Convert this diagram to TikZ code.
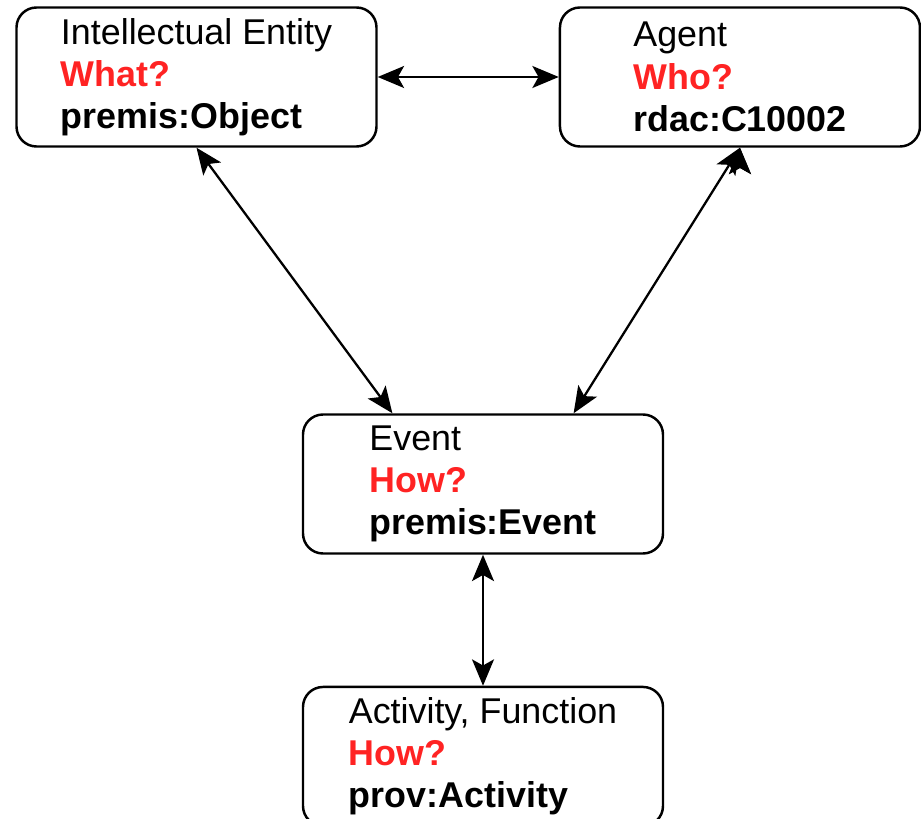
\documentclass[tikz,border=0pt]{standalone}
\usepackage{fontspec}
\setmainfont{Liberation Sans}
\usepackage{tikz}
\usetikzlibrary{arrows.meta,positioning,calc}
\definecolor{qred}{RGB}{255,35,35}
\newcommand*{\qs}[1]{\textcolor{qred}{\textbf{#1}}}

\begin{document}
\begin{tikzpicture}[
    box/.style={rectangle, draw=black, line width=1.4pt, rounded corners=0.4cm,
      minimum width=7.2cm, minimum height=2.78cm, align=left,
      font=\fontsize{20.4pt}{24pt}\selectfont},
    link/.style={<->, line width=1.3pt, >={Stealth[length=15pt,width=12.5pt,inset=3.5pt]}}
  ]
      \useasboundingbox (0,0) rectangle (18.42,-16.38);
      \node[box] (ie) at (3.93,-1.54) {Intellectual Entity\\ \qs{What?}\\ \textbf{premis:Object}};
      \node[box, right = 3.62cm of ie] (agent) {Agent\\ \qs{Who?}\\ \textbf{rdac:C10002}};
      \node[box] (ev) at (9.66,-9.68) {Event\\ \qs{How?}\\ \textbf{premis:Event}};
      \node[box, below = 2.62cm of ev] (act) {Activity, Function\\ \qs{How?}\\ \textbf{prov:Activity}};
      \draw[link]
        (ie) edge (agent)
        (ie.south) edge ($(ev.north west)!0.25!(ev.north east)$)
        (agent.south) edge ($(ev.north west)!0.75!(ev.north east)$)
        (ev) edge (act);
    \end{tikzpicture}
\end{document}
